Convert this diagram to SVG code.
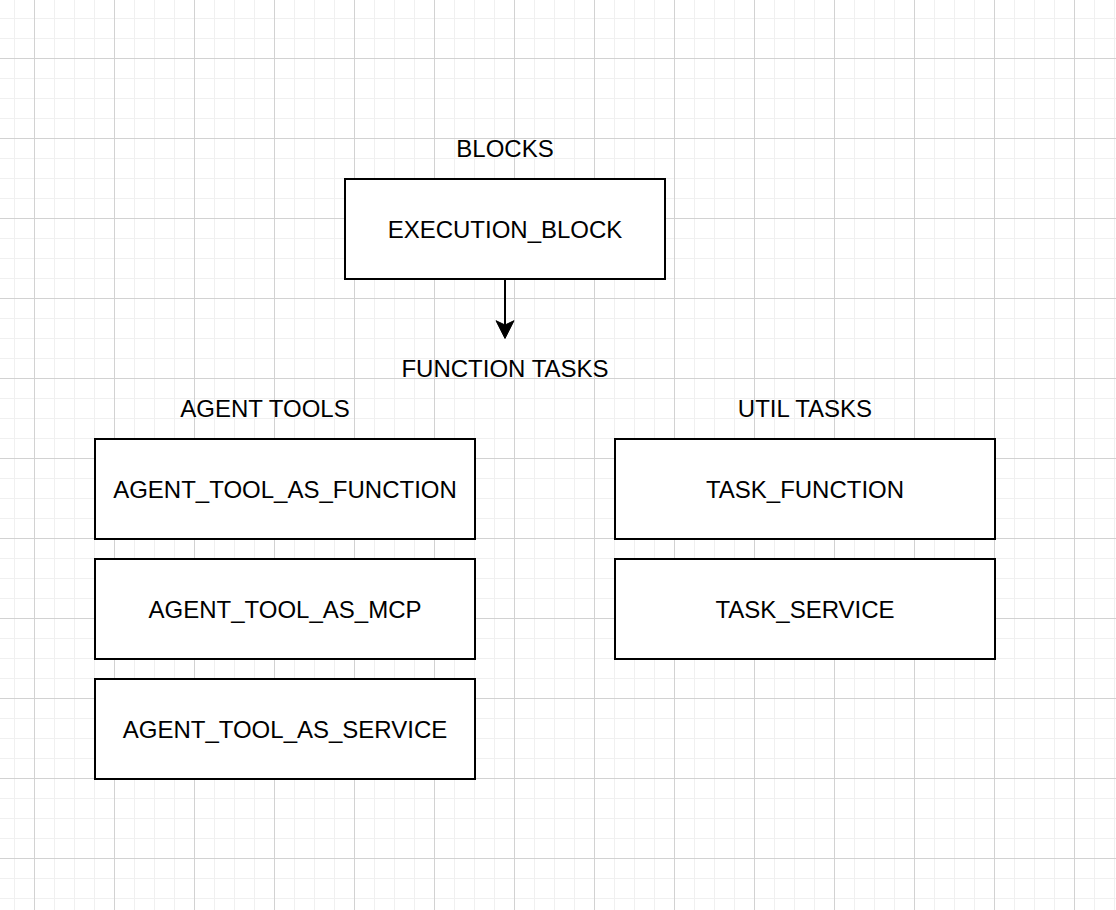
<svg xmlns="http://www.w3.org/2000/svg" width="1116" height="910" viewBox="0 0 1116 910">
<defs>
<pattern id="minor" x="14" y="18" width="20" height="20" patternUnits="userSpaceOnUse">
<path d="M0 0H20M0 0V20" fill="none" stroke="#f0f0f0" stroke-width="2"/>
</pattern>
<pattern id="major" x="34" y="58" width="80" height="80" patternUnits="userSpaceOnUse">
<path d="M0 0.5H80M0.5 0V80" fill="none" stroke="#d2d2d2" stroke-width="1"/>
</pattern>
<marker id="arrow" markerUnits="userSpaceOnUse" markerWidth="20" markerHeight="20" refX="9" refY="18" orient="auto-start-reverse" viewBox="0 0 18 20">
<path d="M0 0.7L9 4.3L18 0.7L9 18Z" fill="#000" transform="rotate(0)"/>
</marker>
</defs>
<style>
.box{fill:#fff;stroke:#000;stroke-width:2}
.t{font-family:"Liberation Sans",Arial,Helvetica,sans-serif;font-size:24px;fill:#000;text-anchor:middle}
</style>
<rect width="1116" height="910" fill="#fff"/>
<rect width="1116" height="910" fill="url(#minor)"/>
<rect width="1116" height="910" fill="url(#major)"/>

<g id="label-blocks"><text class="t" x="505" y="157">BLOCKS</text></g>
<g id="execution-block">
<rect class="box" x="345" y="179" width="320" height="100"/>
<text class="t" x="505" y="237.5">EXECUTION_BLOCK</text>
</g>
<g id="label-function-tasks"><text class="t" x="505" y="377">FUNCTION TASKS</text></g>
<g id="label-agent-tools"><text class="t" x="265" y="417">AGENT TOOLS</text></g>
<g id="label-util-tasks"><text class="t" x="805" y="417">UTIL TASKS</text></g>

<g id="agent-tool-as-function">
<rect class="box" x="95" y="439" width="380" height="100"/>
<text class="t" x="285" y="497.5">AGENT_TOOL_AS_FUNCTION</text>
</g>
<g id="agent-tool-as-mcp">
<rect class="box" x="95" y="559" width="380" height="100"/>
<text class="t" x="285" y="617.5">AGENT_TOOL_AS_MCP</text>
</g>
<g id="agent-tool-as-service">
<rect class="box" x="95" y="679" width="380" height="100"/>
<text class="t" x="285" y="737.5">AGENT_TOOL_AS_SERVICE</text>
</g>
<g id="task-function">
<rect class="box" x="615" y="439" width="380" height="100"/>
<text class="t" x="805" y="497.5">TASK_FUNCTION</text>
</g>
<g id="task-service">
<rect class="box" x="615" y="559" width="380" height="100"/>
<text class="t" x="805" y="617.5">TASK_SERVICE</text>
</g>

<g id="connectors">
<line x1="505" y1="280" x2="505" y2="326" stroke="#000" stroke-width="2"/>
<path d="M496 320.7L505 325L514 320.7L505 338.5Z" fill="#000" stroke="#000" stroke-width="1" stroke-linejoin="miter"/>
</g>
</svg>
